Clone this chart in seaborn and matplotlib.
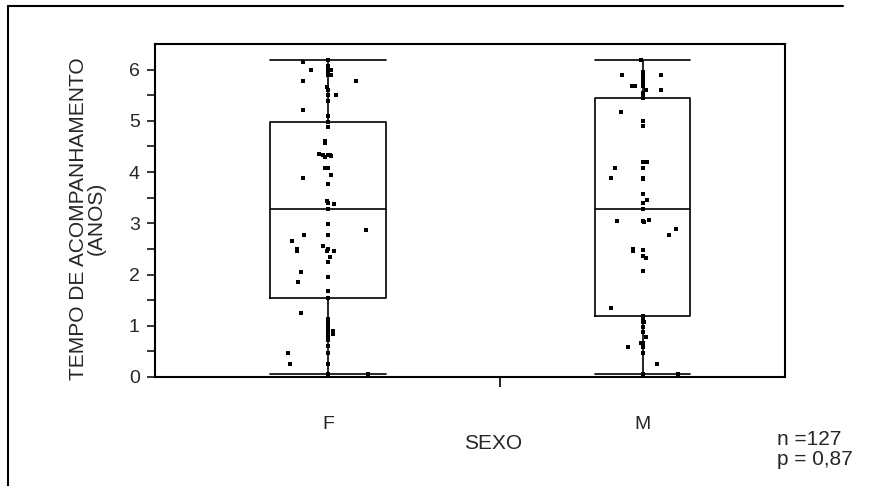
"""
Box plot of follow-up time (years) by sex, with the individual
patients drawn as small jittered squares over the boxes.
"""

import pandas as pd
import matplotlib.pyplot as plt
from matplotlib.lines import Line2D
import seaborn as sns

# categories and box widths (JMP draws them proportional to group size)
SEXO = ['F', 'M']
BOX_WIDTH = {'F': 0.369, 'M': 0.302}

# follow-up time, women
TEMPO_F = [0.05, 0.06, 0.25, 0.25, 0.46, 0.46, 0.60, 0.72, 0.80, 0.83,
           0.85, 0.90, 0.92, 0.97, 1.05, 1.10, 1.14, 1.24,
           1.55,
           1.68, 1.85, 1.96, 2.05, 2.24, 2.35, 2.45, 2.49, 2.45, 2.45,
           2.50, 2.56, 2.66, 2.77, 2.77, 2.87, 2.99,
           3.28,
           3.38, 3.39, 3.44, 3.76, 3.88, 3.95, 4.07, 4.07, 4.30, 4.32,
           4.33, 4.33, 4.33, 4.35, 4.57, 4.60, 4.88,
           4.97,
           5.09, 5.21, 5.38, 5.50, 5.50, 5.60, 5.66, 5.77, 5.77, 5.89,
           5.89, 5.95, 5.99, 5.99, 5.99, 6.08, 6.15, 6.18]
# horizontal jitter of each point (category units), women
JITTER_F = [0.0, 0.127, -0.122, 0.0, -0.127, 0.0, 0.0, 0.0, 0.0, 0.015,
            0.0, 0.015, 0.0, 0.0, 0.0, 0.0, 0.0, -0.088,
            0.0,
            0.0, -0.095, 0.0, -0.085, 0.0, 0.005, -0.10, -0.10, 0.02,
            -0.005, 0.0, -0.016, -0.116, -0.076, 0.0, 0.12, 0.0,
            0.0,
            0.02, 0.0, -0.005, 0.0, -0.08, 0.01, -0.01, 0.0, -0.01, 0.01,
            0.0, -0.015, 0.005, -0.03, -0.01, -0.01, 0.0,
            0.0,
            0.0, -0.08, 0.0, 0.0, 0.025, 0.0, -0.005, -0.08, 0.09, 0.0,
            0.01, 0.0, -0.055, 0.0, 0.01, 0.0, -0.08, 0.0]

# follow-up time, men
TEMPO_M = [0.05, 0.06, 0.25, 0.46, 0.58, 0.58, 0.67, 0.67, 0.78, 0.88,
           0.97, 1.08, 1.08, 1.15,
           1.20,
           1.35, 2.07, 2.32, 2.37, 2.46, 2.48, 2.50, 2.77, 2.88, 3.02,
           3.04, 3.05, 3.06,
           3.28,
           3.39, 3.46, 3.58, 3.87, 3.88, 3.88, 4.08, 4.08, 4.19, 4.19,
           4.89, 5.00, 5.17,
           5.44,
           5.49, 5.55, 5.60, 5.60, 5.68, 5.68, 5.68, 5.75, 5.80, 5.87,
           5.89, 5.89, 5.95, 6.18]
JITTER_M = [0.0, 0.113, 0.045, 0.0, -0.045, 0.0, -0.005, 0.0, 0.01, 0.0,
            0.0, 0.0, 0.005, 0.0,
            0.0,
            -0.10, 0.0, 0.01, 0.0, -0.03, 0.0, -0.03, 0.085, 0.106, 0.005,
            0.0, -0.08, 0.02,
            0.0,
            0.0, 0.015, 0.0, 0.0, -0.10, 0.0, -0.088, 0.0, 0.0, 0.015,
            0.0, 0.0, -0.069,
            0.0,
            0.0, 0.0, 0.01, 0.058, -0.035, -0.025, 0.0, 0.0, 0.0, 0.0,
            -0.064, 0.06, 0.0, -0.005]

Y_TICKS = [0, 1, 2, 3, 4, 5, 6]
N_TEXT = 'n =127'
P_TEXT = 'p = 0,87'


def build_data():
    '''
    Puts the two groups into one long Dataframe with the sex, the
    follow-up time and the jittered x position of every point.
    '''
    f = pd.DataFrame({'SEXO': 'F', 'TEMPO': TEMPO_F, 'DX': JITTER_F})
    m = pd.DataFrame({'SEXO': 'M', 'TEMPO': TEMPO_M, 'DX': JITTER_M})
    df = pd.concat([f, m], ignore_index=True)
    df['X'] = df['SEXO'].map({s: i for i, s in enumerate(SEXO)}) + df['DX']
    return df


def draw(df):
    fig = plt.figure(figsize=(8.77, 4.86), dpi=100)
    ax = fig.add_axes([0.1767, 0.2243, 0.7184, 0.6852])

    # one call per group so each box keeps its own width
    for s in SEXO:
        w = BOX_WIDTH[s]
        sns.boxplot(data=df[df['SEXO'] == s], x='SEXO', y='TEMPO',
                    order=SEXO, width=w, whis=(0, 100), fill=False,
                    color='black', linewidth=1.2, showfliers=False,
                    capwidths=w, ax=ax)

    sns.scatterplot(data=df, x='X', y='TEMPO', marker='s', color='black',
                    s=10, linewidth=0, ax=ax)

    ax.set_xlim(-0.551, 1.453)
    ax.set_ylim(0, 6.5)

    # y axis: integer labels, ticks every half year
    ax.set_yticks(Y_TICKS)
    ax.set_yticks([t + 0.5 for t in Y_TICKS[:-1]], minor=True)
    ax.tick_params(axis='y', which='both', direction='out', length=6,
                   width=1.1, color='black', labelsize=14, pad=5)

    # x axis: labels without marks, one mark between the groups
    ax.set_xticks(range(len(SEXO)))
    ax.set_xticklabels(SEXO)
    ax.set_xticks([0.545], minor=True)
    ax.tick_params(axis='x', which='major', length=0, labelsize=14, pad=28)
    ax.tick_params(axis='x', which='minor', direction='out', length=7,
                   width=1.2, color='black')

    ax.set_xlabel('SEXO', fontsize=15)
    ax.xaxis.set_label_coords(0.537, -0.172)
    ax.set_ylabel('TEMPO DE ACOMPANHAMENTO\n(ANOS)', fontsize=15,
                  linespacing=0.95)
    ax.yaxis.set_label_coords(-0.078, 0.475)

    for side in ['left', 'right', 'top', 'bottom']:
        ax.spines[side].set_visible(True)
        ax.spines[side].set_color('black')
        ax.spines[side].set_linewidth(1.5)

    # frame of the scanned page
    fig.add_artist(Line2D([0.009, 0.961], [0.988, 0.988], color='black',
                          linewidth=1.5))
    fig.add_artist(Line2D([0.009, 0.009], [0.0, 0.988], color='black',
                          linewidth=1.5))

    fig.text(0.886, 1 - 439 / 486, N_TEXT, fontsize=15, ha='left',
             va='center')
    fig.text(0.886, 1 - 459 / 486, P_TEXT, fontsize=15, ha='left',
             va='center')

    fig.savefig('out.png', dpi=100)


def main():
    sns.set_theme(style='ticks')
    plt.rcParams['font.family'] = ['Liberation Sans', 'DejaVu Sans']
    draw(build_data())


if __name__ == '__main__':
    main()
